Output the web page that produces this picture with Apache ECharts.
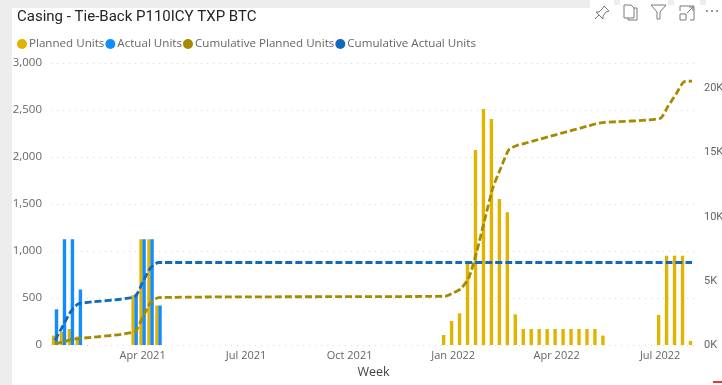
<!DOCTYPE html>
<html><head><meta charset="utf-8">
<style>html,body{margin:0;padding:0;background:#fff}#c{width:722px;height:385px}</style>
<script src="https://cdn.jsdelivr.net/npm/echarts@6/dist/echarts.min.js"></script>
</head><body><div id="c"></div>
<script>
const weekCount = 81;
const tickLabels = {11:'Apr 2021',24:'Jul 2021',37:'Oct 2021',50:'Jan 2022',63:'Apr 2022',76:'Jul 2022'};
const categories = Array.from({length:weekCount},(_,i)=>tickLabels[i]||('W'+i));

const plannedWeeks = [0,1,2,3,10,11,12,13,49,50,51,52,53,54,55,56,57,58,59,60,61,62,63,64,65,66,67,68,69,76,77,78,79,80];
const plannedUnits = [100,140,170,90,530,1125,1125,420,106,255,337,887,2075,2511,2405,1553,1412,326,170,170,170,170,170,170,170,170,170,170,100,320,950,950,950,42];

const actualWeeks = [0,1,2,3,10,11,12,13];
const actualUnits = [380,1125,1125,590,545,1125,1125,420];

const cumPlanned = [100,240,410,500,1030,2155,3280,3700,3806,4061,4398,5285,7360,9871,12276,13829,15241,15567,15737,15907,16077,16247,16417,16587,16757,16927,17097,17267,17367,17687,18637,19587,20537,20579];

const cumActualWeeks = [0,1,2,3,10,11,12,13,49,80];
const cumActual = [380,1505,2630,3220,3765,4890,6015,6435,6435,6435];

const leftTicks = [0,500,1000,1500,2000,2500,3000];
const zip = (a,b)=>a.map((x,i)=>[x,b[i]]);

const GREY='#ededed';
const icon = (pts)=>({type:'polyline',shape:{points:pts},style:{fill:'none',stroke:'#7a7a7a',lineWidth:1},silent:true});

const chart = echarts.init(document.getElementById('c'));
chart.setOption({
  animation:false,
  backgroundColor:'#fff',
  textStyle:{fontFamily:'"Open Sans",sans-serif'},
  title:{text:'Casing - Tie-Back P110ICY TXP BTC',left:12,top:5,textStyle:{fontFamily:'Roboto',fontWeight:400,fontSize:15,color:'#252423'}},
  legend:{left:12,top:33,itemWidth:10,itemHeight:10,itemGap:1,icon:'circle',
    textStyle:{color:'#666',fontSize:11.6,fontFamily:'"Open Sans",sans-serif',padding:[0,0,0,-3]},
    data:['Planned Units','Actual Units','Cumulative Planned Units','Cumulative Actual Units']},
  grid:{left:51,right:26,top:63,bottom:40,outerBoundsMode:'none'},
  xAxis:{type:'category',data:categories,name:'Week',nameLocation:'middle',nameGap:19,
    nameTextStyle:{color:'#444',fontSize:12.5,fontWeight:500},
    axisLine:{show:false},axisTick:{show:false},splitLine:{show:false},
    axisLabel:{interval:0,hideOverlap:false,color:'#666',fontSize:11,margin:5,formatter:(v,i)=>tickLabels[i]||''}},
  yAxis:[
    {type:'value',min:0,max:3000,interval:500,axisLine:{show:false},axisTick:{show:false},
     axisLabel:{color:'#666',fontSize:11.5,margin:9,formatter:v=>leftTicks.includes(v)?v.toLocaleString('en-US'):''},
     splitLine:{show:true,lineStyle:{color:'#d8d8d8',type:[1,5],width:1}}},
    {type:'value',min:0,max:22000,interval:5000,axisLine:{show:false},axisTick:{show:false},splitLine:{show:false},
     axisLabel:{color:'#666',fontFamily:'Roboto',fontSize:11,margin:8,showMaxLabel:false,formatter:v=>(v/1000)+'K'}}
  ],
  series:[
    {name:'Planned Units',type:'bar',data:zip(plannedWeeks,plannedUnits),barWidth:3.4,barGap:'-10%',itemStyle:{color:'#E0B400'}},
    {name:'Actual Units',type:'bar',data:zip(actualWeeks,actualUnits),barWidth:3.4,itemStyle:{color:'#118DFF'}},
    {name:'Cumulative Planned Units',type:'line',yAxisIndex:1,data:zip(plannedWeeks,cumPlanned),showSymbol:false,smooth:0.2,
     itemStyle:{color:'#A68A00'},lineStyle:{color:'#A68A00',width:2.8,type:[7,3]},z:5},
    {name:'Cumulative Actual Units',type:'line',yAxisIndex:1,data:zip(cumActualWeeks,cumActual),showSymbol:false,smooth:0.2,
     itemStyle:{color:'#1068BF'},lineStyle:{color:'#1068BF',width:2.8,type:[7,3]},z:6}
  ],
  graphic:[
    {type:'rect',shape:{x:0,y:0,width:12,height:385},style:{fill:GREY},silent:true},
    {type:'rect',shape:{x:0,y:0,width:590,height:8},style:{fill:GREY},silent:true},
    {type:'rect',shape:{x:614,y:0,width:6,height:5},style:{fill:GREY},silent:true},
    {type:'rect',shape:{x:668,y:0,width:6,height:5},style:{fill:GREY},silent:true},
    {type:'rect',shape:{x:700,y:0,width:6,height:5},style:{fill:GREY},silent:true},
    icon([[604,6],[609,11],[606,12],[603,16],[603,19],[596,12],[599,12],[603,8],[604,6]]),
    icon([[599,15],[595,19]]),
    icon([[624,5],[631,5],[634,8],[634,18],[624,18],[624,5]]),
    icon([[634,8],[637,8],[637,20],[628,20],[628,18]]),
    icon([[651,5],[666,5],[660,12],[660,19],[657,19],[657,12],[651,5]]),
    icon([[680,14],[686,14],[686,20],[680,20],[680,14]]),
    icon([[680,11],[680,6],[694,6],[694,20],[690,20]]),
    icon([[687,13],[693,7]]),
    icon([[689,7],[693,7],[693,11]]),
    {type:'circle',shape:{cx:707,cy:11,r:1},style:{fill:'#7a7a7a'},silent:true},
    {type:'circle',shape:{cx:712,cy:11,r:1},style:{fill:'#7a7a7a'},silent:true},
    {type:'circle',shape:{cx:717,cy:11,r:1},style:{fill:'#7a7a7a'},silent:true},
    {type:'rect',shape:{x:713,y:381,width:9,height:2},style:{fill:'#e33'},silent:true}
  ]
});
</script></body></html>
